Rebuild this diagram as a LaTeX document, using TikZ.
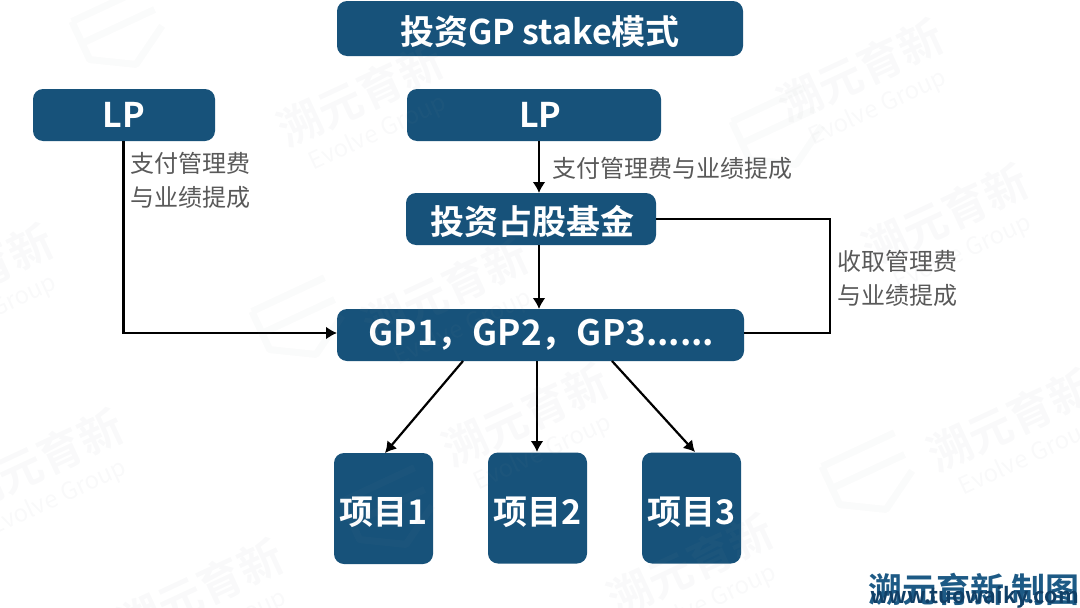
\documentclass[tikz,border=0pt]{standalone}
\usepackage{fontspec}
\setmainfont{Noto Sans CJK SC}
\newfontfamily\boldcjk{Noto Sans CJK SC Bold}
\usetikzlibrary{arrows.meta}
\definecolor{boxblue}{HTML}{17527A}
\definecolor{labelgrey}{HTML}{595959}
\definecolor{markgrey}{HTML}{8A939A}
\definecolor{stampblue}{HTML}{1D5A85}
\definecolor{urlblue}{HTML}{103F66}
\tikzset{
  box/.style={fill=boxblue,rounded corners=10pt,inner sep=0pt,text=white,font=\boldcjk\fontsize{34}{40}\selectfont,align=center},
  lab/.style={text=labelgrey,font=\fontsize{24}{34}\selectfont,align=left,inner sep=0pt},
  link/.style={draw=black,line width=2.2pt},
  arr/.style={link,-{Latex[length=11pt,width=13pt]}},
  wm/.pic={
    \node[opacity=.05,text=markgrey,rotate=25,font=\boldcjk\fontsize{44}{44}\selectfont,inner sep=0pt] at (0,0) {溯元育新};
    \node[opacity=.05,text=markgrey,rotate=25,font=\fontsize{24}{24}\selectfont,inner sep=0pt] at (18,38) {Evolve Group};
  },
  wl/.pic={
    \draw[opacity=.04,draw=markgrey,line width=7pt,rotate=25,line join=round]
      (-40,-28) -- (40,-28) (-40,-4) -- (40,-4) (-40,-28) -- (-40,14) -- (0,38) -- (40,14);
  }
}
\begin{document}
\begin{tikzpicture}[x=1pt,y=-1pt]
\useasboundingbox (0,0) rectangle (1080,608);
% boxes
\node[box,minimum width=406pt,minimum height=55pt] (title) at (540,28.5) {\raisebox{-15.5pt}[20pt][20pt]{投资GP stake模式}};
\node[box,minimum width=182pt,minimum height=52pt] (lpa) at (124,115) {LP};
\node[box,minimum width=254pt,minimum height=52pt] (lpb) at (534,115) {\hspace*{13pt}LP};
\node[box,minimum width=250pt,minimum height=52pt] (fund) at (531,219) {\hspace*{3pt}\raisebox{-15pt}[20pt][20pt]{投资占股基金}};
\node[box,minimum width=407pt,minimum height=52pt,font=\boldcjk\fontsize{35}{40}\selectfont] (gp) at (540.5,335) {\hspace*{2pt}GP1，GP2，GP3......};
\node[box,minimum width=99pt,minimum height=111pt] (pa) at (383.5,508.5) {\raisebox{-16pt}[20pt][20pt]{项目1}};
\node[box,minimum width=99pt,minimum height=111pt] (pb) at (537.5,508) {\raisebox{-16pt}[20pt][20pt]{项目2}};
\node[box,minimum width=99pt,minimum height=111pt] (pc) at (691.5,508) {\raisebox{-16pt}[20pt][20pt]{项目3}};
% connector ends
\coordinate (a1) at (123.5,141);
\coordinate (b1) at (539,141);
\coordinate (b2) at (539,193);
\coordinate (f1) at (539,245);
\coordinate (f2) at (539,309);
\coordinate (g1) at (463,361);
\coordinate (p1) at (385,453);
\coordinate (g2) at (537,361);
\coordinate (p2) at (537,452);
\coordinate (g3) at (612,361);
\coordinate (p3) at (695,452);
\coordinate (c1) at (830,333);
\coordinate (g0) at (337,333);
\coordinate (g9) at (744,333);
\draw[arr] (a1) |- (g0);
\draw[arr] (b1) -- (b2);
\draw[arr] (f1) -- (f2);
\draw[link] (fund.east) -| (c1) -- (g9);
\draw[arr] (g1) -- (p1);
\draw[arr] (g2) -- (p2);
\draw[arr] (g3) -- (p3);
% labels
\node[lab,anchor=north west] (la) at (130,152) {支付管理费\\与业绩提成};
\node[lab,anchor=west] (lb) at (552,168) {支付管理费与业绩提成};
\node[lab,anchor=north west] (lc) at (837,250) {收取管理费\\与业绩提成};
% watermark
\pic at (360,95) {wm};
\pic at (860,70) {wm};
\pic at (945,215) {wm};
\pic at (445,290) {wm};
\pic at (-30,275) {wm};
\pic at (40,460) {wm};
\pic at (525,415) {wm};
\pic at (1010,420) {wm};
\pic at (200,590) {wm};
\pic at (690,565) {wm};
\pic at (300,320) {wl};
\pic at (870,475) {wl};
\pic at (390,510) {wl};
\pic at (120,30) {wl};
\pic at (780,130) {wl};
% stamp
\node[inner sep=0pt,anchor=east,text=stampblue,font=\boldcjk\fontsize{34}{34}\selectfont] (stamp) at (1080,589) {溯元育新 制图};
\node[inner sep=0pt,anchor=east,text=urlblue,font=\boldcjk\fontsize{21.5}{25}\selectfont] (url) at (1079,597) {www.tuowaiky.com};
\end{tikzpicture}
\end{document}
